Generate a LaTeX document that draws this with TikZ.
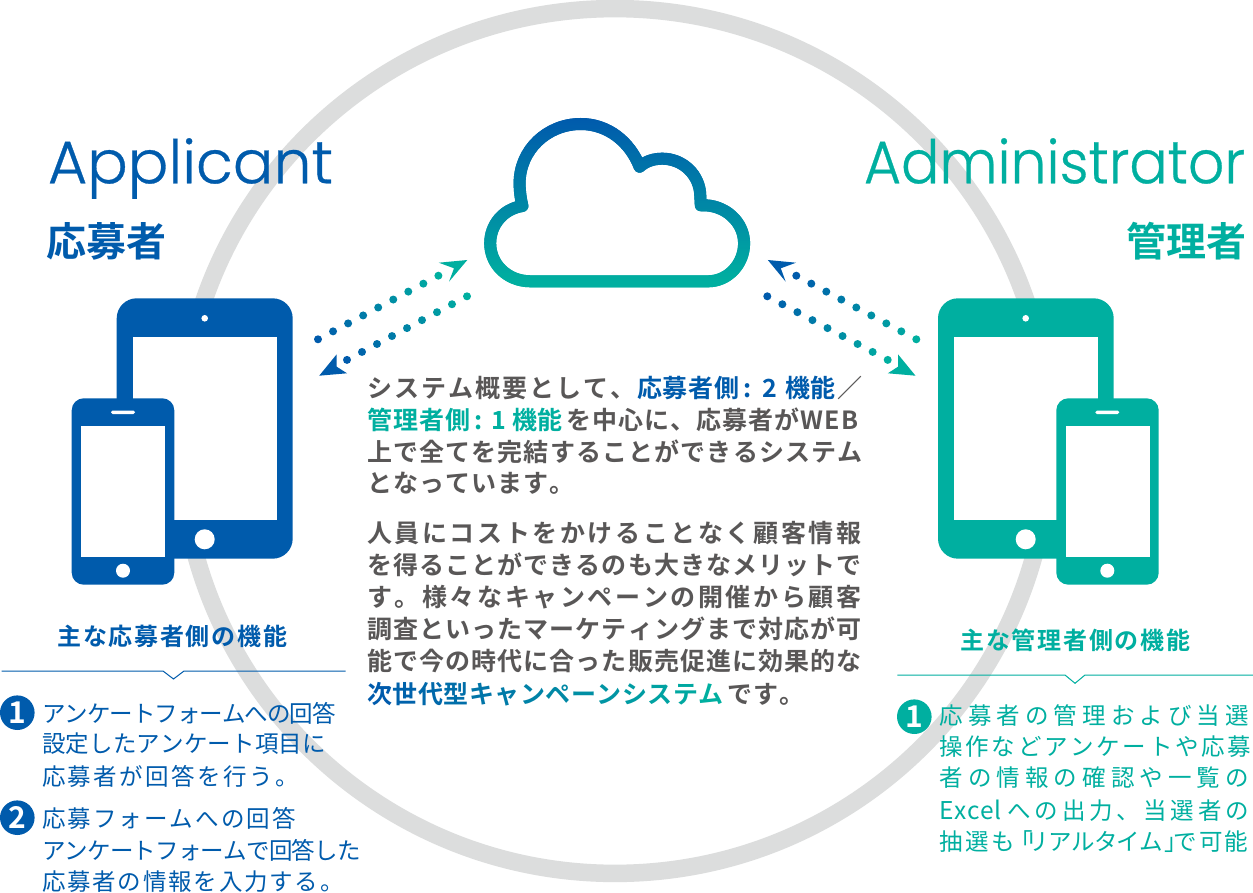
\documentclass[tikz,border=0pt]{standalone}
\usepackage{fontspec}
\setmainfont{Noto Sans CJK JP}
\newfontfamily\jpr{Noto Sans CJK JP}
\newfontfamily\jpb{Noto Sans CJK JP Bold}
\newfontfamily\pop{Poppins}[UprightFont=* Light,FakeBold=0.5]
\definecolor{cBlue}{HTML}{005BAC}
\definecolor{cTeal}{HTML}{00AFA0}
\definecolor{cGray}{HTML}{595757}
\definecolor{cRing}{HTML}{DCDDDD}
\makeatletter
\newcommand\trk[2]{\@tfor\trk@c:=#2\do{\trk@c\kern#1pt\relax}}
\makeatother
\newcommand\fs[1]{\fontsize{#1pt}{#1pt}\selectfont}
\newcommand\gc[2]{\textcolor{cTeal!#1!cBlue}{#2}\kern0.5pt\relax}
\newcommand\hs[1]{\kern#1pt\relax}
\tikzset{
  tl/.style={anchor=base west,inner sep=0pt,outer sep=0pt},
  ctext/.style={tl,text=cGray,font=\jpb\fs{25}},
  blist/.style={tl,text=cBlue,font=\jpr\fs{23.5}},
  tlist/.style={tl,text=cTeal,font=\jpr\fs{23.5}},
  head/.style={tl,font=\jpb\fs{24}},
  big/.style={tl,font=\jpb\fs{40}},
  latin/.style={tl,font=\pop\fs{60}},
  numdisc/.style={circle,minimum size=34.6pt,inner sep=0pt,text=white,font=\jpb\fs{30}}
}
\begin{document}
\begin{tikzpicture}[x=1pt,y=-1pt]
\useasboundingbox (0,0) rectangle (1253,893);
\fill[white] (0,0) rectangle (1253,893);
% ring
\draw[cRing,line width=17.5pt] (615,441) ellipse[x radius=434.5pt,y radius=432.4pt];
% left devices
\fill[cBlue,rounded corners=20pt] (116.7,298.3) rectangle (292.7,558.7);
\fill[white] (132.7,337.3) rectangle (277,519.7);
\fill[white] (204.7,318.3) circle[radius=3.3pt];
\fill[white] (204.7,539.3) circle[radius=10pt];
\fill[cBlue,rounded corners=12pt] (71.7,398.3) rectangle (174.3,584.7);
\fill[white] (81,426.3) rectangle (165,557);
\fill[white,rounded corners=1.7pt] (111,410.5) rectangle (135,414.1);
\fill[white] (123,570.7) circle[radius=7pt];
% right devices
\fill[cTeal,rounded corners=20pt] (938,298.3) rectangle (1113.7,558.7);
\fill[white] (953.7,337.3) rectangle (1098,519.7);
\fill[white] (1025.7,318.3) circle[radius=3.3pt];
\fill[white] (1025.7,539.3) circle[radius=10pt];
\fill[cTeal,rounded corners=12pt] (1056.3,398.3) rectangle (1158.7,584.7);
\fill[white] (1065.7,426.3) rectangle (1149.7,557);
\fill[white,rounded corners=1.7pt] (1095.3,410.5) rectangle (1119.3,414.1);
\fill[white] (1107.3,570.7) circle[radius=7pt];
% cloud
\foreach \yy in {116,118,...,290}{
  \pgfmathtruncatemacro\pp{min(100,max(0,(\yy-120)/1.6))}
  \begin{scope}
    \clip (470,\yy) rectangle (760,\yy+2.6);
    \draw[cTeal!\pp!cBlue,line width=12pt,line join=round,line cap=round]
      (530.6,281.3) .. controls (507,281.3) and (490.2,264) .. (490.2,243.3)
      .. controls (490.2,225) and (503,209) .. (522.4,206)
      .. controls (520.5,198) and (519.6,190) .. (519.6,183.3)
      .. controls (519.6,150) and (547,124) .. (580.8,124)
      .. controls (608,124) and (630,142) .. (639.6,166.7)
      .. controls (646,161) and (654,158.7) .. (662.4,158.7)
      .. controls (683,158.7) and (700,175) .. (700.3,196) -- (700.8,205.3)
      .. controls (725,204) and (744.1,222) .. (744.1,243.3)
      .. controls (744.1,264) and (728,281.3) .. (708.2,281.3) -- cycle;
  \end{scope}
}
% dotted arrows
\foreach \i in {0,...,8}{
  \pgfmathtruncatemacro\pp{\i*12.5}
  \pgfmathtruncatemacro\qq{100-\i*12.5}
  \fill[cTeal!\pp!cBlue] ({318+\i*15.05},{339.3-\i*7.95}) circle[radius=4pt];
  \fill[cTeal!\qq!cBlue] ({467-\i*15.0},{296.3+\i*7.95}) circle[radius=4pt];
  \fill[cTeal!\pp!cBlue] ({796.3+\i*15.0},{275.7+\i*7.95}) circle[radius=4pt];
  \fill[cTeal!\pp!cBlue] ({767.3+\i*15.05},{296.3+\i*7.95}) circle[radius=4pt];
}
\fill[cTeal] (467.3,260) -- (438.8,262.7) -- (454,268.3) -- (449,281.7) -- cycle;
\fill[cBlue] (319.2,375.7) -- (336.7,354.3) -- (336.7,366.7) -- (347,373.3) -- cycle;
\fill[cBlue] (767.8,260) -- (796,262.7) -- (780.8,268.3) -- (785.7,281.7) -- cycle;
\fill[cTeal] (915.5,375.7) -- (898,354.3) -- (898,366.7) -- (887.8,373.3) -- cycle;
% titles
\node[latin,text=cBlue] (tA) at (48,183.3) {\resizebox{285pt}{\height}{Applicant}};
\node[latin,text=cTeal] (tB) at (864,183.3) {\resizebox{381pt}{\height}{Administrator}};
\node[big,text=cBlue] (jA) at (46.5,257) {応募者};
\node[big,text=cTeal] (jB) at (1126,257) {管理者};
% center text
\node[ctext] (c1) at (367,397.5) {\trk{2}{システム概要として、}\textcolor{cBlue}{\trk{0.8}{応募者側}\hs{3}:\hs{11}2\hs{8}\trk{0}{機能}}\hs{2}／};
\node[ctext] (c2) at (367,429.5) {\textcolor{cTeal}{\trk{1}{管理者側}\hs{3}:\hs{9}1\hs{6.5}\trk{0}{機能}}\hs{4}\trk{1}{を中心に、応募者が}\trk{1.5}{WEB}};
\node[ctext] (c3) at (367,461.2) {\trk{1.15}{上で全てを完結することができるシステム}};
\node[ctext] (c4) at (367,492.5) {\trk{1}{となっています。}};
\node[ctext] (d1) at (367,542.5) {\trk{2.6}{人員にコストをかけることなく顧客情報}};
\node[ctext] (d2) at (367,574.5) {\trk{1.1}{を得ることができるのも大きなメリットで}};
\node[ctext] (d3) at (367,606.5) {\trk{2.6}{す。様々なキャンペーンの開催から顧客}};
\node[ctext] (d4) at (367,638.5) {\trk{1.1}{調査といったマーケティングまで対応が可}};
\node[ctext] (d5) at (367,670.5) {\trk{1.1}{能で今の時代に合った販売促進に効果的な}};
\node[ctext] (d6) at (367,703) {\gc{0}{次}\gc{8}{世}\gc{15}{代}\gc{23}{型}\gc{31}{キ}\gc{38}{ャ}\gc{46}{ン}\gc{54}{ペ}\gc{62}{ー}\gc{69}{ン}\gc{77}{シ}\gc{85}{ス}\gc{92}{テ}\gc{100}{ム}\hs{3}\trk{1}{です。}};
% left list
\node[head,text=cBlue] (hA) at (57.5,645.8) {\trk{1.7}{主な応募者側の機能}};
\coordinate (lA1) at (1.7,671);
\coordinate (lA2) at (163,671);
\coordinate (lA3) at (173.5,679);
\coordinate (lA4) at (184,671);
\coordinate (lA5) at (345.7,671);
\draw[cBlue,line width=1pt] (lA1) -- (lA2) -- (lA3) -- (lA4) -- (lA5);
\node[numdisc,fill=cBlue] (n1) at (17.3,712.7) {1};
\node[numdisc,fill=cBlue] (n2) at (17.3,817.7) {2};
\node[blist] (a1) at (42,722.3) {\trk{-1}{アンケートフォームへの回答}};
\node[blist] (a2) at (42,752.3) {\trk{0.2}{設定したアンケート項目に}};
\node[blist] (a3) at (42,785.7) {\trk{2.4}{応募者が回答を行う。}};
\node[blist] (a4) at (42,827.3) {\trk{2.1}{応募フォームへの回答}};
\node[blist] (a5) at (42,859) {\trk{-0.8}{アンケートフォームで回答した}};
\node[blist] (a6) at (42,890.7) {\trk{1.8}{応募者の情報を入力する。}};
% right list
\node[head,text=cTeal] (hB) at (960.5,649.8) {\trk{1.7}{主な管理者側の機能}};
\coordinate (lB1) at (897.3,675);
\coordinate (lB2) at (1065,675);
\coordinate (lB3) at (1075,683.3);
\coordinate (lB4) at (1085,675);
\coordinate (lB5) at (1253,675);
\draw[cTeal,line width=1pt] (lB1) -- (lB2) -- (lB3) -- (lB4) -- (lB5);
\node[numdisc,fill=cTeal] (n3) at (914.3,716.7) {1};
\node[tlist] (b1) at (939.5,724) {\trk{5.1}{応募者の管理および当選}};
\node[tlist] (b2) at (939.5,755) {\trk{2.7}{操作などアンケートや応募}};
\node[tlist] (b3) at (939.5,786.7) {\trk{5.1}{者の情報の確認や一覧の}};
\node[tlist] (b4) at (939.5,819) {{\fs{24.5}\trk{0.5}{Excel}}\hs{6}\trk{3.7}{への出力、当選者の}};
\node[tlist] (b5) at (939.5,850.7) {\trk{2.6}{抽選も}\hs{-8.5}「\hs{-7.5}\trk{-0.6}{リアルタイム}\hs{2}」\hs{-14.5}\trk{1.9}{で可能}};
\end{tikzpicture}
\end{document}
